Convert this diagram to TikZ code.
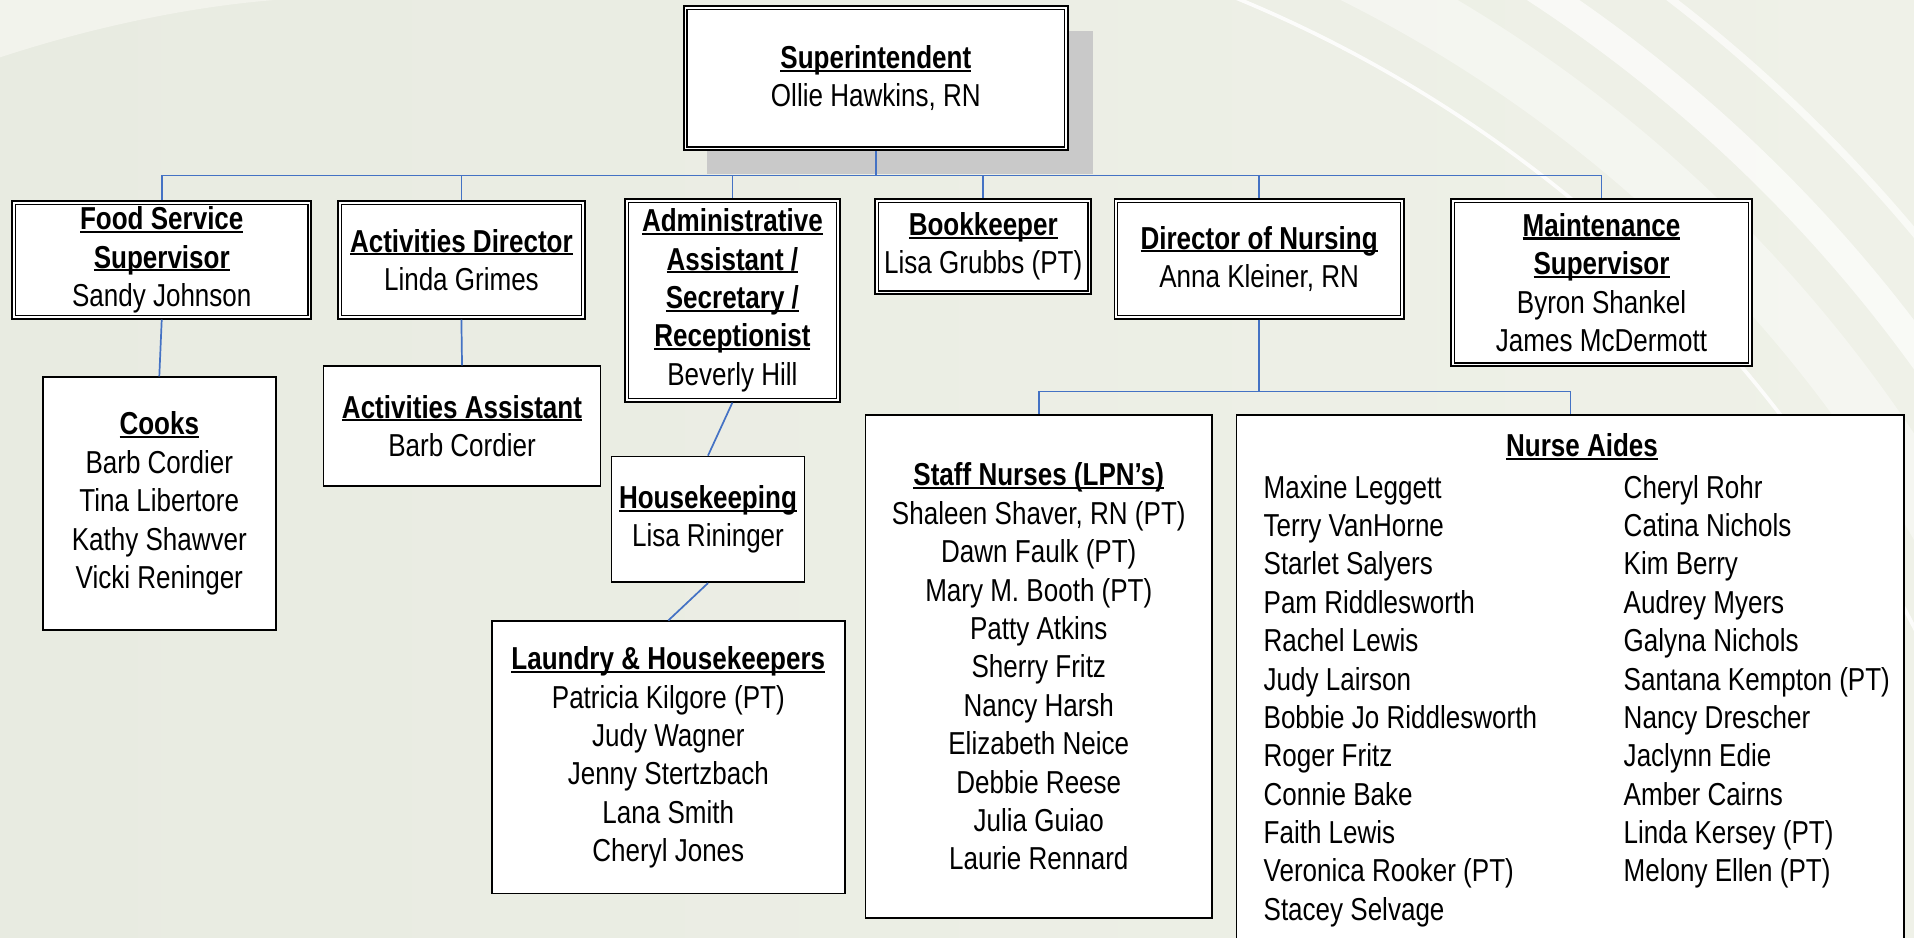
\documentclass[tikz,border=0pt]{standalone}
\usepackage{fontspec}
\setmainfont[FakeStretch=0.82]{Liberation Sans}
\definecolor{bgleft}{RGB}{232,235,225}
\definecolor{bgright}{RGB}{239,241,232}
\definecolor{bglight}{RGB}{242,243,236}
\definecolor{linkblue}{RGB}{68,114,196}
\definecolor{shadowgray}{RGB}{201,201,201}
% bold title with a fixed underline
\newcommand{\ttl}[1]{\setbox0=\hbox{\bfseries #1}\rlap{\rule[-0.1em]{\wd0}{0.065em}}\box0}
\begin{document}
\begin{tikzpicture}[x=1pt,y=-1pt,
  every node/.style={font=\fontsize{26}{31.45}\selectfont, align=center, inner sep=0pt},
  dbox/.style={draw, line width=1.6, fill=white},
  sbox/.style={draw, line width=1.4, fill=white},
  conn/.style={linkblue, line width=1.4}]
 \useasboundingbox (0,0) rectangle (1568,768);
 \clip (0,0) rectangle (1568,768);
 % background
 \shade[left color=bgleft, right color=bgright] (0,0) rectangle (1568,768);
 \fill[bglight] (0,0) -- (0,47) .. controls (70,24) and (150,6) .. (225,0) -- cycle;
 \begin{scope}
  \clip (900,0) rectangle (1568,768);
  \draw[white, line width=46, opacity=0.4] (600,1000) circle (1140);
  \draw[white, line width=24, opacity=0.65] (600,1000) circle (1205);
  \draw[white, line width=3, opacity=0.85] (600,1000) circle (1083);
  \draw[white, line width=6, opacity=0.65] (600,1000) circle (1262);
 \end{scope}
 \fill[shadowgray] (579,25) rectangle (895,142.5);
 % top level
 \node[dbox, minimum width=315, minimum height=118] (sup) at (717.5,64) {\ttl{Superintendent}\\Ollie Hawkins, RN};
 \node[dbox, minimum width=245, minimum height=96] (food) at (132.5,213) {\ttl{Food Service}\\\ttl{Supervisor}\\Sandy Johnson};
 \node[dbox, minimum width=202, minimum height=96] (actdir) at (378,213) {\ttl{Activities Director}\\Linda Grimes};
 \node[dbox, minimum width=176, minimum height=166] (admin) at (600,246) {\ttl{Administrative}\\\ttl{Assistant /}\\\ttl{Secretary /}\\\ttl{Receptionist}\\Beverly Hill};
 \node[dbox, minimum width=177, minimum height=78] (book) at (805.5,202) {\ttl{Bookkeeper}\\Lisa Grubbs (PT)};
 \node[dbox, minimum width=237, minimum height=98] (don) at (1031.5,212) {\ttl{Director of Nursing}\\Anna Kleiner, RN};
 \node[dbox, minimum width=246, minimum height=137] (maint) at (1312,231.5) {\ttl{Maintenance}\\\ttl{Supervisor}\\Byron Shankel\\James McDermott};
 \foreach \n in {sup,food,actdir,admin,book,don,maint}
    \draw[line width=1.1] ([shift={(3.5,3.5)}]\n.north west) rectangle ([shift={(-3.5,-3.5)}]\n.south east);
 % second level
 \node[sbox, minimum width=191, minimum height=207] (cooks) at (130.5,412.5) {\ttl{Cooks}\\Barb Cordier\\Tina Libertore\\Kathy Shawver\\Vicki Reninger};
 \node[sbox, minimum width=227, minimum height=98] (actasst) at (378.5,349) {\ttl{Activities Assistant}\\Barb Cordier};
 \node[sbox, minimum width=158, minimum height=103] (house) at (580,425.5) {\ttl{Housekeeping}\\Lisa Rininger};
 \node[sbox, minimum width=289, minimum height=223] (laundry) at (547.5,620.5) {\ttl{Laundry \& Housekeepers}\\Patricia Kilgore (PT)\\Judy Wagner\\Jenny Stertzbach\\Lana Smith\\Cheryl Jones};
 \node[sbox, minimum width=284, minimum height=412] (staff) at (851,546) {\ttl{Staff Nurses (LPN’s)}\\Shaleen Shaver, RN (PT)\\Dawn Faulk (PT)\\Mary M. Booth (PT)\\Patty Atkins\\Sherry Fritz\\Nancy Harsh\\Elizabeth Neice\\Debbie Reese\\Julia Guiao\\Laurie Rennard};
 \node[sbox, minimum width=547, minimum height=430] (aides) at (1286.5,555) {};
 \node (aidestitle) at (1296,366) {\ttl{Nurse Aides}};
 \node[anchor=north west, align=left] (aidesa) at (1035,389) {Maxine Leggett\\Terry VanHorne\\Starlet Salyers\\Pam Riddlesworth\\Rachel Lewis\\Judy Lairson\\Bobbie Jo Riddlesworth\\Roger Fritz\\Connie Bake\\Faith Lewis\\Veronica Rooker (PT)\\Stacey Selvage};
 \node[anchor=north west, align=left] (aidesb) at (1330,389) {Cheryl Rohr\\Catina Nichols\\Kim Berry\\Audrey Myers\\Galyna Nichols\\Santana Kempton (PT)\\Nancy Drescher\\Jaclynn Edie\\Amber Cairns\\Linda Kersey (PT)\\Melony Ellen (PT)};
 % connectors
 \foreach \n in {food,actdir,admin,book,don,maint}
    \draw[conn] (sup.south) -- ++(0,20) -| (\n.north);
 \draw[conn] (food.south) -- (cooks.north);
 \draw[conn] (actdir.south) -- (actasst.north);
 \draw[conn] (admin.south) -- (house.north);
 \draw[conn] (house.south) -- (laundry.north);
 \foreach \n in {staff,aides}
    \draw[conn] (don.south) -- ++(0,59) -| (\n.north);
\end{tikzpicture}
\end{document}
